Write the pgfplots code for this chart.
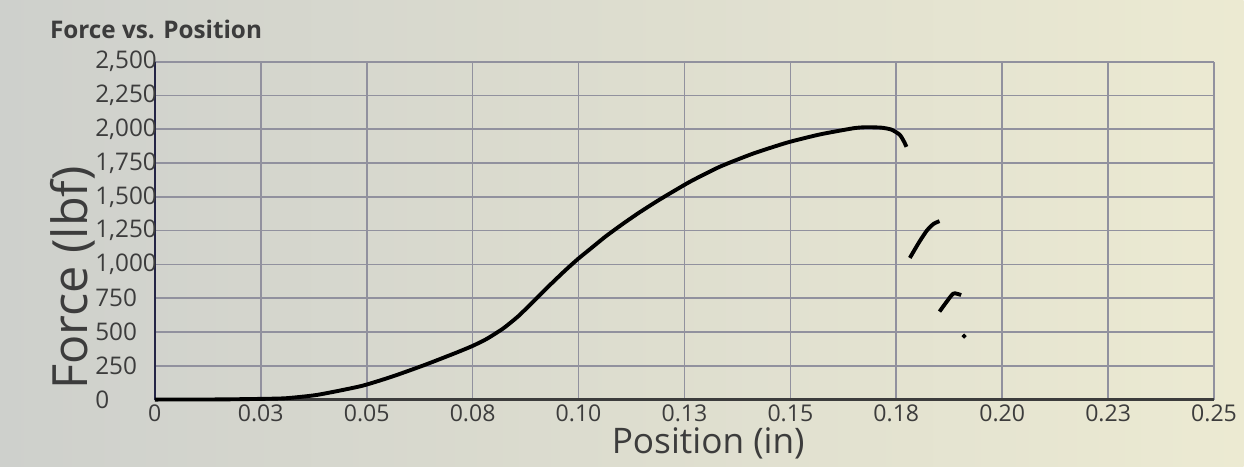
\documentclass[border=0pt]{standalone}
\usepackage{fontspec}
\setmainfont{Open Sans}
\usepackage{pgfplots}
\pgfplotsset{compat=1.18}

\definecolor{bgL}{RGB}{206,208,204}
\definecolor{bgR}{RGB}{236,234,210}
\definecolor{cGrid}{RGB}{145,145,158}
\definecolor{cInk}{RGB}{60,60,60}
\definecolor{cAxis}{RGB}{36,36,70}

\begin{document}
\begin{tikzpicture}
% photo-like backdrop, same size as the reference
\shade[left color=bgL, right color=bgR] (0,0) rectangle (18,6.752);

\begin{axis}[
  at={(2.241cm,0.969cm)}, anchor=south west,
  scale only axis,
  width=15.33cm, height=4.89cm,
  xmin=0, xmax=0.25, ymin=0, ymax=2500,
  axis lines=left,
  axis line style={-, line width=1pt},
  y axis line style={cAxis},
  x axis line style={cInk},
  major tick length=0pt,
  grid=major,
  grid style={cGrid, line width=0.7pt},
  xtick={0,0.025,...,0.25},
  xticklabels={0,0.03,0.05,0.08,0.10,0.13,0.15,0.18,0.20,0.23,0.25},
  ytick={0,250,...,2500},
  /pgf/number format/assume math mode=true,
  /pgf/number format/1000 sep={,},
  tick label style={font=\fontsize{10}{12}\selectfont, color=cInk},
  xticklabel style={font=\fontsize{9.5}{11}\selectfont, yshift=1.5pt},
  yticklabel style={anchor=west, inner sep=0pt, xshift=-0.868cm},
  clip=false,
]
% main loading curve
\addplot[black, line width=1.6pt, line join=round, smooth, tension=0.35] coordinates {
  (0,0) (0.015,1) (0.025,5) (0.031,10) (0.0384,35) (0.0487,100)
  (0.056,170) (0.0636,255) (0.071,345) (0.075,397) (0.0784,450)
  (0.0823,528) (0.0859,620) (0.0894,728) (0.093,840) (0.0968,954)
  (0.1,1044) (0.1024,1105) (0.1064,1207) (0.1105,1301) (0.1143,1383)
  (0.119,1477) (0.1262,1610) (0.1333,1722) (0.1412,1820) (0.1493,1902)
  (0.157,1962) (0.165,2008) (0.168,2015) (0.1714,2012) (0.1738,1998)
  (0.1758,1960) (0.1768,1910) (0.1774,1870)
};
% broken fragments after failure
\addplot[black, line width=1.6pt, line join=round, smooth, tension=0.4] coordinates {
  (0.1782,1048) (0.1803,1160) (0.1822,1250) (0.1838,1300) (0.1852,1320)
};
\addplot[black, line width=1.6pt, line join=round, smooth, tension=0.4] coordinates {
  (0.1852,651) (0.1868,720) (0.1885,785) (0.1903,773)
};
\addplot[black, only marks, mark=*, mark size=0.8pt] coordinates {(0.191,470)};
\end{axis}

\node[anchor=west, font=\bfseries\fontsize{10}{12}\selectfont, color=cInk]
  at (0.6,6.33) {Force vs. Position};
\node[rotate=90, font=\fontsize{20}{24}\selectfont, color=cInk]
  at (1.05,2.73) {Force (lbf)};
\node[font=\fontsize{14.5}{17}\selectfont, color=cInk]
  at (10.25,0.33) {Position (in)};
\end{tikzpicture}
\end{document}
